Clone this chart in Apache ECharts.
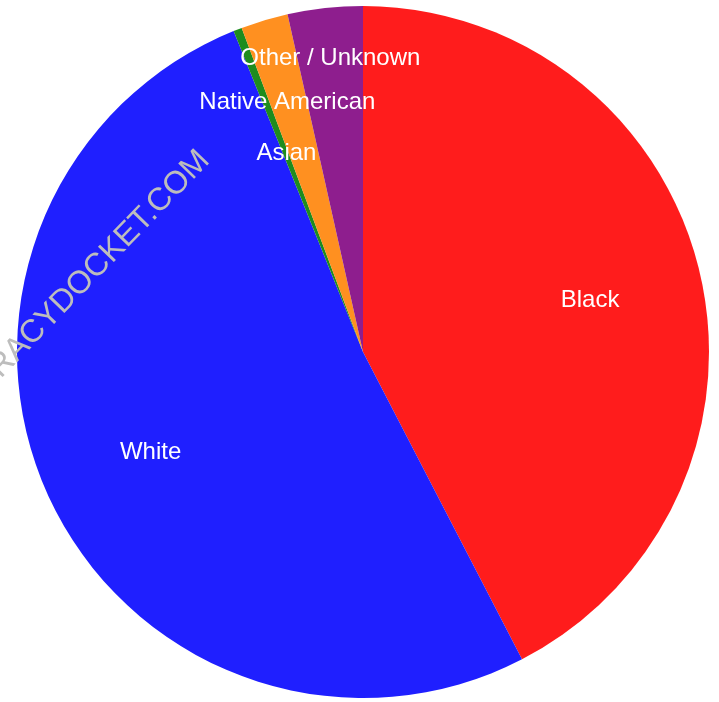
<!DOCTYPE html>
<html>
<head>
<meta charset="utf-8">
<script src="https://cdn.jsdelivr.net/npm/echarts@6/dist/echarts.min.js"></script>
<style>html,body{margin:0;padding:0;background:#fff}#c{width:719px;height:702px}</style>
</head>
<body>
<div id="c"></div>
<script>
const categories = ['Black', 'White', 'Native American', 'Asian', 'Other / Unknown'];
const values = [42.4, 51.5, 0.4, 2.2, 3.5];
const colors = ['#ff1c1c', '#1f1fff', '#1e8c1e', '#ff9020', '#8e1e8e'];
const labelShift = [[0, 4], [0, 3], [9, -32], [-10, 25], [-7, -61]];

const data = categories.map((n, i) => ({ name: n, value: values[i], itemStyle: { color: colors[i] } }));
const chart = echarts.init(document.getElementById('c'));
const R = 346, C = [363, 352];
chart.setOption({
  animation: false,
  series: [
    {
      type: 'pie', center: C, radius: R, startAngle: 90, clockwise: true,
      data: data, label: { show: false }, labelLine: { show: false },
      itemStyle: { borderWidth: 0 }, silent: true
    },
    {
      type: 'pie', center: C, radius: [R / 3, R], startAngle: 90, clockwise: true,
      data: data.map(d => ({ name: d.name, value: d.value })),
      itemStyle: { color: 'rgba(0,0,0,0)', borderWidth: 0 },
      labelLine: { show: false },
      label: {
        show: true, position: 'inside', formatter: '{b}', color: '#ffffff',
        fontFamily: 'Liberation Sans, Arial, sans-serif', fontSize: 24
      },
      labelLayout: function (p) { const s = labelShift[p.dataIndex]; return { dx: s[0], dy: s[1] }; },
      silent: true
    }
  ],
  graphic: [{
    type: 'text', x: 58, y: 307, rotation: 46 * Math.PI / 180, z: 100,
    style: {
      text: 'DEMOCRACYDOCKET.COM', fill: '#bdbdbd',
      font: '32px "Liberation Sans", Arial, sans-serif',
      textAlign: 'center', textVerticalAlign: 'middle'
    }
  }]
});
</script>
</body>
</html>
